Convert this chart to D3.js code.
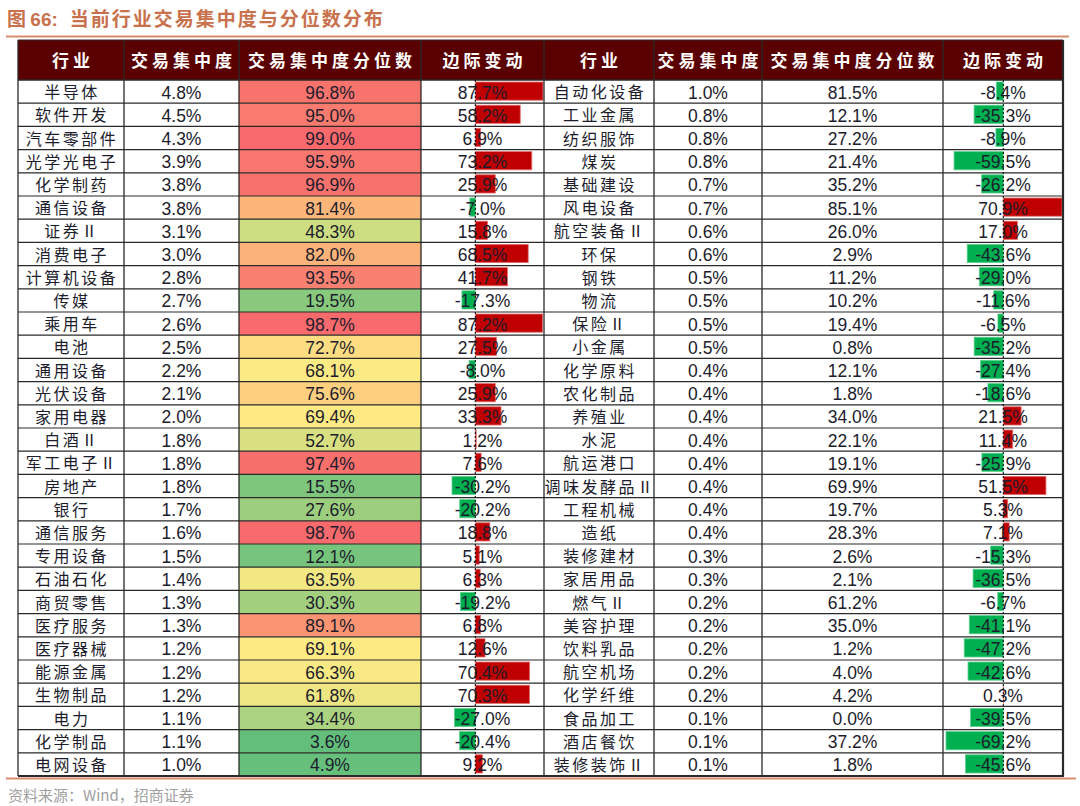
<!DOCTYPE html>
<html><head><meta charset="utf-8">
<script src="https://cdn.jsdelivr.net/npm/d3@7"></script>
<style>body{margin:0;background:#fff;}svg{display:block;}</style>
</head><body>
<script>
// ---------- DATA ----------
const headers = ["行业","交易集中度","交易集中度分位数","边际变动"];
const leftIndustry = ["半导体","软件开发","汽车零部件","光学光电子","化学制药","通信设备","证券Ⅱ","消费电子","计算机设备","传媒","乘用车","电池","通用设备","光伏设备","家用电器","白酒Ⅱ","军工电子Ⅱ","房地产","银行","通信服务","专用设备","石油石化","商贸零售","医疗服务","医疗器械","能源金属","生物制品","电力","化学制品","电网设备"];
const leftConc = [4.8,4.5,4.3,3.9,3.8,3.8,3.1,3.0,2.8,2.7,2.6,2.5,2.2,2.1,2.0,1.8,1.8,1.8,1.7,1.6,1.5,1.4,1.3,1.3,1.2,1.2,1.2,1.1,1.1,1.0];
const leftPct = [96.8,95.0,99.0,95.9,96.9,81.4,48.3,82.0,93.5,19.5,98.7,72.7,68.1,75.6,69.4,52.7,97.4,15.5,27.6,98.7,12.1,63.5,30.3,89.1,69.1,66.3,61.8,34.4,3.6,4.9];
const leftChange = [87.7,58.2,6.9,73.2,25.9,-7.0,15.8,68.5,41.7,-17.3,87.2,27.5,-8.0,25.9,33.3,1.2,7.6,-30.2,-20.2,18.8,5.1,6.3,-19.2,6.8,12.6,70.4,70.3,-27.0,-20.4,9.2];

const rightIndustry = ["自动化设备","工业金属","纺织服饰","煤炭","基础建设","风电设备","航空装备Ⅱ","环保","钢铁","物流","保险Ⅱ","小金属","化学原料","农化制品","养殖业","水泥","航运港口","调味发酵品Ⅱ","工程机械","造纸","装修建材","家居用品","燃气Ⅱ","美容护理","饮料乳品","航空机场","化学纤维","食品加工","酒店餐饮","装修装饰Ⅱ"];
const rightConc = [1.0,0.8,0.8,0.8,0.7,0.7,0.6,0.6,0.5,0.5,0.5,0.5,0.4,0.4,0.4,0.4,0.4,0.4,0.4,0.4,0.3,0.3,0.2,0.2,0.2,0.2,0.2,0.1,0.1,0.1];
const rightPct = [81.5,12.1,27.2,21.4,35.2,85.1,26.0,2.9,11.2,10.2,19.4,0.8,12.1,1.8,34.0,22.1,19.1,69.9,19.7,28.3,2.6,2.1,61.2,35.0,1.2,4.0,4.2,0.0,37.2,1.8];
const rightChange = [-8.4,-35.3,-8.9,-59.5,-26.2,70.9,17.0,-43.6,-29.0,-11.6,-6.5,-35.2,-27.4,-18.6,21.5,11.4,-25.9,51.5,5.3,7.1,-15.3,-36.5,-6.7,-41.1,-47.2,-42.6,0.3,-39.5,-69.2,-45.6];

const titleText = "当前行业交易集中度与分位数分布";
const sourceText = "资料来源：Wind，招商证券";

// ---------- LAYOUT ----------
const W = 1080, H = 806;
const colX = [18,124,239,421,544,654,762,943,1063];
const headTop = 40, bodyTop = 80, bodyBottom = 776;
const cjk = "'Noto Sans CJK SC','Noto Sans CJK JP',sans-serif";
const latin = "'Liberation Sans',Arial,sans-serif";

const svg = d3.select("body").append("svg").attr("width", W).attr("height", H);

// title
const t = svg.append("text").attr("x", 7).attr("y", 26)
  .attr("fill", "#c8714c").attr("font-size", 19).attr("font-weight", "bold")
  .attr("font-family", cjk);
t.append("tspan").text("图 ");
t.append("tspan").attr("font-family", latin).text("66:");
t.append("tspan").attr("dx", 12).attr("letter-spacing", 2).text(titleText);
svg.append("line").attr("x1", 6).attr("x2", 1069).attr("y1", 36.5).attr("y2", 36.5)
  .attr("stroke", "#d98c6c").attr("stroke-width", 2);

// row scale
const y = d3.scaleBand().domain(d3.range(leftIndustry.length)).range([bodyTop, bodyBottom]);

// heat colour scale (left block only)
const heat = d3.scaleLinear()
  .domain([d3.min(leftPct), d3.median(leftPct), d3.max(leftPct)])
  .range(["#63be7b", "#ffeb84", "#f8696b"]);

// header
svg.append("rect").attr("x", colX[0]).attr("y", headTop).attr("width", colX[8]-colX[0])
  .attr("height", bodyTop-headTop).attr("fill", "#5a0000");
const headCenters = d3.range(8).map(i => (colX[i]+colX[i+1])/2);
svg.append("g").selectAll("text").data(headCenters).join("text")
  .attr("x", (d) => d + 2).attr("y", (headTop+bodyTop)/2 - 1)
  .attr("text-anchor", "middle").attr("dominant-baseline", "central")
  .attr("fill", "#fff").attr("font-size", 17).attr("font-weight", "bold")
  .attr("letter-spacing", 4).attr("font-family", cjk)
  .text((d, i) => headers[i % 4]);

// heat cells
svg.append("g").selectAll("rect").data(leftPct).join("rect")
  .attr("x", colX[2]).attr("y", (d, i) => y(i)).attr("width", colX[3]-colX[2])
  .attr("height", y.bandwidth()).attr("fill", d => heat(d));

// data bars
function bars(values, x0, x1) {
  const xs = d3.scaleLinear().domain([d3.min(values), d3.max(values)]).range([x0, x1]);
  const g = svg.append("g");
  g.selectAll("rect").data(values).join("rect")
    .attr("x", d => Math.min(xs(0), xs(d)))
    .attr("y", (d, i) => y(i) + 2)
    .attr("width", d => Math.abs(xs(d) - xs(0)))
    .attr("height", y.bandwidth() - 5)
    .attr("fill", d => d >= 0 ? "#c00000" : "#00b050")
    .attr("stroke", d => d >= 0 ? "#e07070" : "#60d090")
    .attr("stroke-width", 0.8);
  return xs;
}
const xsL = bars(leftChange, 452, 543);
const xsR = bars(rightChange, 946, 1062);

// grid lines
const grid = svg.append("g").attr("stroke", "#2a2a2a");
grid.selectAll("line.h").data(d3.range(1, leftIndustry.length)).join("line")
  .attr("x1", colX[0]).attr("x2", colX[8])
  .attr("y1", i => y(i)).attr("y2", i => y(i)).attr("stroke-width", 1.2);
grid.append("line").attr("x1", colX[0]).attr("x2", colX[8]).attr("y1", bodyTop).attr("y2", bodyTop).attr("stroke-width", 1.5);
grid.selectAll("line.v").data(colX).join("line")
  .attr("x1", d => d).attr("x2", d => d).attr("y1", headTop).attr("y2", bodyBottom)
  .attr("stroke-width", (d, i) => i === 8 ? 2.2 : 1.3);
grid.append("line").attr("x1", colX[0]).attr("x2", colX[8]+1).attr("y1", bodyBottom).attr("y2", bodyBottom).attr("stroke-width", 2.2);
grid.append("line").attr("x1", colX[0]).attr("x2", colX[8]).attr("y1", headTop).attr("y2", headTop).attr("stroke-width", 1);

// dashed axes
[xsL(0), xsR(0)].forEach(x => {
  svg.append("line").attr("x1", x).attr("x2", x).attr("y1", bodyTop).attr("y2", bodyBottom)
    .attr("stroke", "#000").attr("stroke-width", 1).attr("stroke-dasharray", "2,2");
});

// cell texts
function column(values, ci, fmt, isCjk) {
  const cx = (colX[ci] + colX[ci+1]) / 2;
  svg.append("g").selectAll("text").data(values).join("text")
    .attr("x", isCjk ? cx + 1 : cx).attr("y", (d, i) => y(i) + y.bandwidth()/2 + (isCjk ? -0.5 : 1))
    .attr("text-anchor", "middle").attr("dominant-baseline", "central")
    .attr("font-family", isCjk ? cjk : latin)
    .attr("font-size", isCjk ? 16 : 17.5)
    .attr("letter-spacing", isCjk ? 2.5 : 0)
    .attr("fill", "#1c1c2c")
    .text(fmt);
}
const pct = d => d.toFixed(1) + "%";
column(leftIndustry, 0, d => d, true);
column(leftConc, 1, pct, false);
column(leftPct, 2, pct, false);
column(leftChange, 3, pct, false);
column(rightIndustry, 4, d => d, true);
column(rightConc, 5, pct, false);
column(rightPct, 6, pct, false);
column(rightChange, 7, pct, false);

// bottom rule and source
svg.append("line").attr("x1", 6).attr("x2", 1076).attr("y1", 778.5).attr("y2", 778.5)
  .attr("stroke", "#d98c6c").attr("stroke-width", 2);
svg.append("text").attr("x", 8).attr("y", 801).attr("fill", "#a0a0a0")
  .attr("font-size", 15).attr("font-family", cjk).text(sourceText);
</script>
</body></html>
